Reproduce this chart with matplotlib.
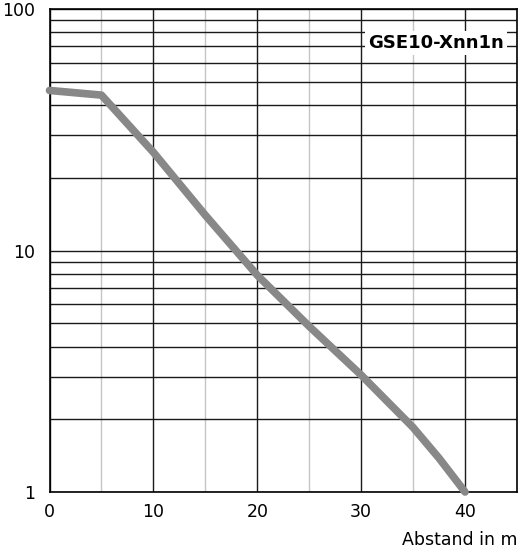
import numpy as np
from matplotlib import pyplot as plt
from matplotlib.ticker import FixedLocator, NullFormatter

# Kennlinie GSE10-Xnn1n
distance = [0, 5, 10, 15, 20, 25, 30, 35, 37.5, 40]
reserve = [46, 44, 25.5, 14, 7.9, 4.85, 3.05, 1.85, 1.38, 1.0]

x_major = [0, 10, 20, 30, 40]
x_minor = [5, 15, 25, 35]
y_major = [1, 10, 100]
y_labels = ['1', '10', '100']
model = 'GSE10-Xnn1n'
xlabel = 'Abstand in m'

plt.rcParams['font.family'] = ['DejaVu Sans']

fig = plt.figure(figsize=(5.2, 5.48), dpi=100)
ax = fig.add_axes([49.5 / 520, 1 - 492 / 548, (517 - 49.5) / 520, (492 - 9) / 548])

ax.set_yscale('log')
ax.set_xlim(0, 45)
ax.set_ylim(1, 100)

ax.set_xticks(x_major)
ax.set_xticklabels([str(v) for v in x_major])
ax.xaxis.set_minor_locator(FixedLocator(x_minor))
ax.set_yticks(y_major)
ax.set_yticklabels(y_labels)
minor_y = [m * d for d in (1, 10) for m in range(2, 10)]
ax.yaxis.set_minor_locator(FixedLocator(minor_y))
ax.yaxis.set_minor_formatter(NullFormatter())

ax.tick_params(which='both', length=0, labelsize=12.5, colors='black')
ax.tick_params(axis='x', pad=8)
ax.tick_params(axis='y', pad=10)

ax.grid(which='major', axis='both', color='#1a1a1a', lw=1.0)
ax.grid(which='minor', axis='y', color='#1a1a1a', lw=1.0)
ax.grid(which='minor', axis='x', color='#c4c4c4', lw=1.0)
ax.set_axisbelow(True)

for s in ax.spines.values():
    s.set_color('black')
    s.set_linewidth(1.2)

ax.plot(distance, reserve, color='#888888', lw=5.5, solid_capstyle='round',
        solid_joinstyle='round', zorder=3, clip_on=False)

ax.text(436 / 520, 1 - 43 / 548, model, transform=fig.transFigure, ha='center', va='center',
        fontsize=13, fontweight='bold',
        bbox=dict(facecolor='white', edgecolor='none', pad=2))

fig.text(517 / 520, 1 - 540 / 548, xlabel, ha='right', va='center', fontsize=12.5)

plt.savefig('out.png', dpi=100)
